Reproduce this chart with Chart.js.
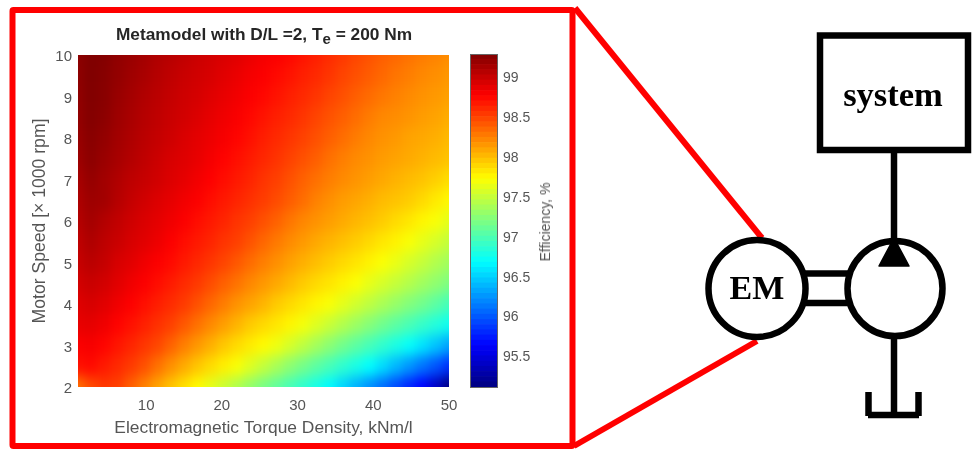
<!DOCTYPE html>
<html>
<head>
<meta charset="utf-8">
<title>Metamodel</title>
<script src="https://cdn.jsdelivr.net/npm/chart.js@4"></script>
<style>
html, body { margin: 0; padding: 0; background: #fff; }
body { position: relative; width: 972px; height: 449px; overflow: hidden; }
canvas { position: absolute; left: 0; top: 0; }
svg { position: absolute; left: 0; top: 0; }
#plot { position: absolute; left: 78px; top: 55px; width: 371px; height: 332px; overflow: hidden; }
#heat { left: -78px; top: -55px; filter: url(#soft); }
#axes, #bar, #title, #cbLabel { filter: blur(0.4px); }
#cbBox { position: absolute; left: 470px; top: 54px; width: 26px; height: 332px; border: 1px solid #666; }
#title { position: absolute; left: 64px; width: 400px; top: 24px; text-align: center; font: bold 17.3px "Liberation Sans", sans-serif; color: #262626; white-space: nowrap; }
#title sub { font-size: 15px; line-height: 0; }
#cbLabel { position: absolute; left: 545px; top: 222px; transform: translate(-50%, -50%) rotate(-90deg); font: 14px "Liberation Sans", sans-serif; color: #555; white-space: nowrap; }
</style>
</head>
<body>
<svg width="0" height="0" style="position:absolute">
  <filter id="soft" x="0" y="0" width="100%" height="100%" color-interpolation-filters="sRGB">
    <feGaussianBlur stdDeviation="4 6.5"/>
    <feComponentTransfer>
      <feFuncA type="linear" slope="100"/>
    </feComponentTransfer>
  </filter>
</svg>
<div id="plot"><canvas id="heat" width="972" height="449"></canvas></div>
<canvas id="axes" width="972" height="449"></canvas>
<canvas id="bar" width="972" height="449"></canvas>
<div id="cbBox"></div>
<div id="title">Metamodel with D/L =2, T<sub>e</sub> = 200 Nm</div>
<div id="cbLabel">Efficiency, %</div>
<svg width="972" height="449" viewBox="0 0 972 449">
  <g fill="none" stroke="#ff0000" stroke-width="6">
    <rect x="12.5" y="10" width="560" height="436" rx="1"/>
    <line x1="575" y1="8" x2="762" y2="238"/>
    <line x1="574" y1="446" x2="757" y2="341"/>
  </g>
  <g fill="none" stroke="#000" stroke-width="6.5">
    <rect x="820" y="35.5" width="148" height="114.5"/>
    <line x1="894" y1="150" x2="894" y2="240"/>
    <line x1="894" y1="338" x2="894" y2="416"/>
    <circle cx="757" cy="288.5" r="48.5"/>
    <circle cx="895" cy="288.5" r="47.5"/>
    <line x1="804" y1="273.5" x2="849" y2="273.5"/>
    <line x1="804" y1="303" x2="849" y2="303"/>
    <line x1="868.5" y1="392" x2="868.5" y2="416"/>
    <line x1="918.5" y1="392" x2="918.5" y2="416"/>
    <line x1="868" y1="415" x2="919" y2="415"/>
  </g>
  <path d="M894 238 L909 266 L879 266 Z" fill="#000" stroke="#000" stroke-width="1.5" stroke-linejoin="round"/>
  <text x="893" y="106" text-anchor="middle" font-family="Liberation Serif" font-weight="bold" font-size="34.5">system</text>
  <text x="757" y="299" text-anchor="middle" font-family="Liberation Serif" font-weight="bold" font-size="34">EM</text>
</svg>
<script>
// grid of the metamodel
const torqueDensity = [1, 2.75, 4.5, 6.25, 8, 9.75, 11.5, 13.25, 15, 16.75, 18.5, 20.25, 22, 23.75, 25.5, 27.25, 29, 30.75, 32.5, 34.25, 36, 37.75, 39.5, 41.25, 43, 44.75, 46.5, 48.25, 50];
const motorSpeed = [2, 2.5, 3, 3.5, 4, 4.5, 5, 5.5, 6, 6.5, 7, 7.5, 8, 8.5, 9, 9.5, 10];
const efficiency = [
  [98.30, 98.46, 98.54, 98.51, 98.38, 98.24, 98.10, 97.97, 97.85, 97.74, 97.62, 97.51, 97.40, 97.28, 97.17, 97.07, 96.97, 96.87, 96.77, 96.66, 96.51, 96.36, 96.22, 96.08, 95.93, 95.78, 95.64, 95.40, 95.13],
  [98.70, 98.73, 98.66, 98.60, 98.53, 98.44, 98.31, 98.18, 98.07, 97.96, 97.87, 97.79, 97.70, 97.59, 97.48, 97.37, 97.26, 97.16, 97.06, 96.97, 96.87, 96.78, 96.68, 96.54, 96.39, 96.25, 96.11, 95.98, 95.83],
  [98.78, 98.80, 98.75, 98.68, 98.62, 98.55, 98.48, 98.37, 98.25, 98.15, 98.05, 97.95, 97.87, 97.80, 97.74, 97.66, 97.56, 97.46, 97.35, 97.25, 97.15, 97.06, 96.97, 96.88, 96.79, 96.70, 96.57, 96.44, 96.31],
  [98.86, 98.87, 98.83, 98.76, 98.70, 98.64, 98.57, 98.51, 98.41, 98.31, 98.21, 98.12, 98.03, 97.94, 97.88, 97.82, 97.76, 97.68, 97.59, 97.50, 97.41, 97.32, 97.23, 97.14, 97.06, 96.98, 96.90, 96.82, 96.74],
  [98.90, 98.93, 98.89, 98.83, 98.77, 98.71, 98.65, 98.59, 98.53, 98.44, 98.35, 98.26, 98.17, 98.10, 98.03, 97.94, 97.88, 97.82, 97.76, 97.70, 97.62, 97.54, 97.46, 97.38, 97.30, 97.22, 97.15, 97.06, 96.97],
  [98.95, 98.99, 98.95, 98.89, 98.83, 98.78, 98.72, 98.66, 98.60, 98.54, 98.46, 98.38, 98.30, 98.22, 98.15, 98.08, 98.01, 97.94, 97.88, 97.83, 97.77, 97.71, 97.63, 97.56, 97.49, 97.42, 97.34, 97.27, 97.20],
  [99.00, 99.05, 99.01, 98.93, 98.89, 98.83, 98.78, 98.73, 98.67, 98.61, 98.55, 98.49, 98.41, 98.33, 98.25, 98.18, 98.11, 98.05, 97.99, 97.93, 97.88, 97.83, 97.77, 97.71, 97.64, 97.56, 97.49, 97.41, 97.34],
  [99.03, 99.10, 99.04, 98.99, 98.93, 98.89, 98.84, 98.78, 98.72, 98.67, 98.62, 98.56, 98.51, 98.43, 98.35, 98.27, 98.20, 98.14, 98.08, 98.03, 97.98, 97.93, 97.88, 97.82, 97.77, 97.70, 97.63, 97.56, 97.48],
  [99.07, 99.14, 99.08, 99.02, 98.97, 98.92, 98.88, 98.83, 98.78, 98.72, 98.67, 98.62, 98.56, 98.51, 98.44, 98.37, 98.29, 98.22, 98.17, 98.12, 98.07, 98.02, 97.98, 97.93, 97.87, 97.82, 97.76, 97.70, 97.62],
  [99.10, 99.17, 99.15, 99.07, 99.01, 98.96, 98.91, 98.87, 98.82, 98.78, 98.72, 98.67, 98.62, 98.57, 98.52, 98.46, 98.39, 98.32, 98.24, 98.18, 98.13, 98.09, 98.05, 98.00, 97.97, 97.93, 97.88, 97.81, 97.75],
  [99.13, 99.20, 99.15, 99.09, 99.04, 99.00, 98.96, 98.91, 98.87, 98.82, 98.77, 98.72, 98.67, 98.62, 98.56, 98.51, 98.44, 98.37, 98.31, 98.25, 98.20, 98.16, 98.12, 98.08, 98.04, 98.00, 97.97, 97.92, 97.86],
  [99.17, 99.24, 99.18, 99.13, 99.08, 99.03, 98.98, 98.93, 98.90, 98.86, 98.81, 98.76, 98.71, 98.66, 98.61, 98.56, 98.50, 98.44, 98.38, 98.31, 98.25, 98.20, 98.17, 98.13, 98.10, 98.07, 98.04, 98.00, 97.97],
  [99.19, 99.25, 99.21, 99.15, 99.10, 99.05, 99.01, 98.97, 98.92, 98.88, 98.84, 98.80, 98.75, 98.70, 98.65, 98.60, 98.55, 98.50, 98.44, 98.38, 98.32, 98.26, 98.21, 98.17, 98.14, 98.10, 98.08, 98.05, 98.01],
  [99.21, 99.27, 99.24, 99.17, 99.12, 99.07, 99.03, 98.99, 98.95, 98.91, 98.87, 98.83, 98.79, 98.74, 98.69, 98.64, 98.60, 98.55, 98.49, 98.43, 98.38, 98.32, 98.26, 98.21, 98.19, 98.16, 98.13, 98.10, 98.06],
  [99.22, 99.28, 99.25, 99.19, 99.14, 99.09, 99.05, 99.01, 98.97, 98.94, 98.90, 98.86, 98.82, 98.78, 98.74, 98.69, 98.64, 98.60, 98.55, 98.49, 98.44, 98.38, 98.33, 98.28, 98.24, 98.20, 98.17, 98.14, 98.11],
  [99.23, 99.29, 99.26, 99.21, 99.16, 99.12, 99.07, 99.03, 98.99, 98.96, 98.93, 98.89, 98.85, 98.81, 98.78, 98.73, 98.69, 98.64, 98.60, 98.55, 98.49, 98.44, 98.39, 98.34, 98.29, 98.25, 98.21, 98.18, 98.15],
  [99.24, 99.29, 99.27, 99.22, 99.18, 99.14, 99.09, 99.06, 99.02, 98.98, 98.95, 98.92, 98.89, 98.85, 98.81, 98.78, 98.74, 98.69, 98.64, 98.59, 98.54, 98.48, 98.43, 98.38, 98.34, 98.30, 98.26, 98.23, 98.19]
];
const xTicks = [10, 20, 30, 40, 50];
const yTicks = [2, 3, 4, 5, 6, 7, 8, 9, 10];
const cbTicks = [95.5, 96, 96.5, 97, 97.5, 98, 98.5, 99];
const cbMin = 95.11;
const cbMax = 99.29;
const cbLevels = 64;

const tickColor = '#555';
const sans = '"Liberation Sans", sans-serif';

// matlab jet
function jet(v) {
    const t = Math.max(0, Math.min(1, (v - cbMin) / (cbMax - cbMin)));
    const ch = c => Math.round(255 * Math.max(0, Math.min(1, 1.5 - Math.abs(4 * t - c))));
    return `rgb(${ch(3)},${ch(2)},${ch(1)})`;
}

const heatSets = motorSpeed.map((speed, r) => ({
    data: torqueDensity.map(x => ({ x: x, y: [speed - 0.25, speed + 0.25] })),
    backgroundColor: efficiency[r].map(jet),
    barPercentage: 1,
    categoryPercentage: 1,
    grouped: false,
    clip: false
}));

// cells only, the blur filter sits on this canvas
new Chart(document.getElementById('heat'), {
    type: 'bar',
    data: { datasets: heatSets },
    options: {
        responsive: false,
        animation: false,
        layout: { padding: { left: 78, top: 55, right: 523, bottom: 62 } },
        plugins: { legend: { display: false }, tooltip: { enabled: false } },
        scales: {
            x: { type: 'linear', min: 1, max: 50, offset: false, display: false },
            y: { type: 'linear', min: 2, max: 10, display: false }
        }
    }
});

// axes and their labels on their own canvas
new Chart(document.getElementById('axes'), {
    type: 'bar',
    data: { datasets: [] },
    options: {
        responsive: false,
        animation: false,
        layout: { padding: { left: 0, top: 55, right: 523, bottom: 0 } },
        plugins: { legend: { display: false }, tooltip: { enabled: false } },
        scales: {
            x: {
                type: 'linear', min: 1, max: 50, offset: false,
                grid: { display: false, drawTicks: false },
                border: { display: false },
                afterBuildTicks: axis => { axis.ticks = xTicks.map(v => ({ value: v })); },
                afterFit: axis => { axis.height = 62; },
                ticks: { color: tickColor, font: { family: sans, size: 15 }, padding: 10, maxRotation: 0, autoSkip: false },
                title: { display: true, text: 'Electromagnetic Torque Density, kNm/l', color: tickColor, font: { family: sans, size: 17.4 }, padding: { top: 10, bottom: 10 } }
            },
            y: {
                type: 'linear', min: 2, max: 10,
                grid: { display: false, drawTicks: false },
                border: { display: false },
                afterBuildTicks: axis => { axis.ticks = yTicks.map(v => ({ value: v })); },
                afterFit: axis => { axis.width = 78; },
                ticks: { color: tickColor, font: { family: sans, size: 15 }, padding: 6, labelOffset: 2, autoSkip: false },
                title: { display: true, text: 'Motor Speed [× 1000 rpm]', color: tickColor, font: { family: sans, size: 17.6 }, padding: { top: 30, bottom: 30 } }
            }
        }
    }
});

// colorbar as one column of colour levels
const cbStep = (cbMax - cbMin) / cbLevels;
const cbSets = [];
for (let i = 0; i < cbLevels; i++) {
    const lo = cbMin + i * cbStep;
    cbSets.push({
        data: [[lo, lo + cbStep]],
        backgroundColor: jet(lo + cbStep / 2),
        barPercentage: 1,
        categoryPercentage: 1,
        grouped: false
    });
}

new Chart(document.getElementById('bar'), {
    type: 'bar',
    data: { labels: ['Efficiency'], datasets: cbSets },
    options: {
        responsive: false,
        animation: false,
        layout: { padding: { left: 471, top: 54, right: 435, bottom: 62 } },
        plugins: {
            legend: { display: false },
            tooltip: { enabled: false }
        },
        scales: {
            x: { display: false },
            y: {
                position: 'right',
                min: cbMin, max: cbMax,
                afterBuildTicks: axis => { axis.ticks = cbTicks.map(v => ({ value: v })); },
                afterFit: axis => { axis.width = 40; },
                grid: { drawOnChartArea: false, tickLength: -3, color: '#444' },
                border: { display: false },
                ticks: { color: tickColor, font: { family: sans, size: 14 }, padding: 9, labelOffset: 1.5, autoSkip: false, callback: v => String(v) }
            }
        }
    }
});
</script>
</body>
</html>
